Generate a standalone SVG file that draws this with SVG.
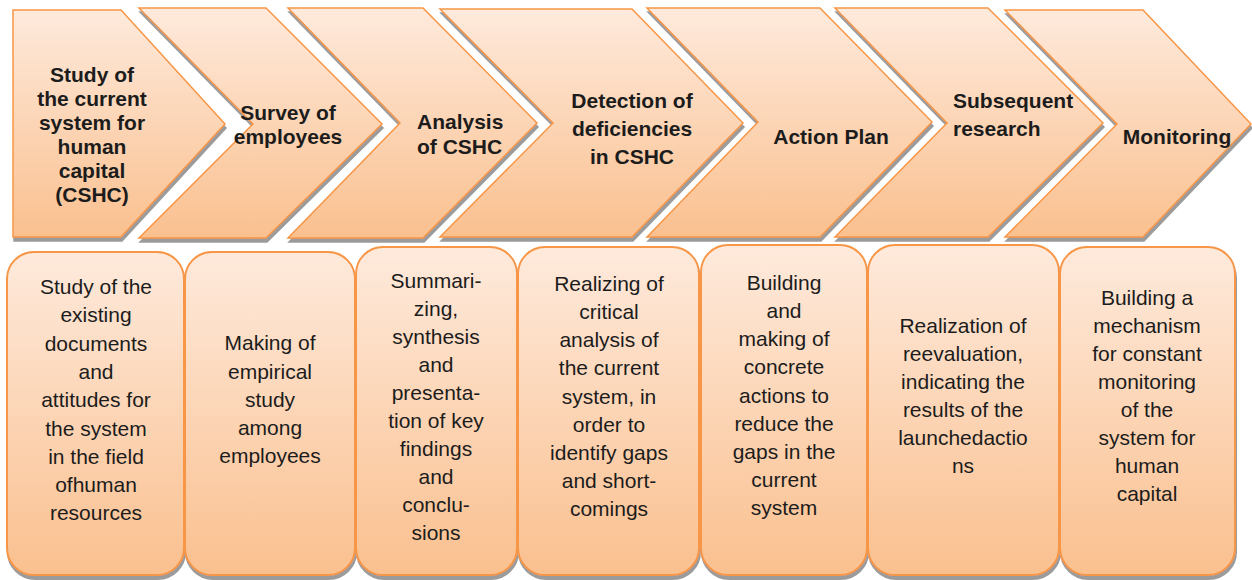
<svg xmlns="http://www.w3.org/2000/svg" width="1252" height="580" viewBox="0 0 1252 580">
<defs>
<linearGradient id="g" x1="0" y1="0" x2="0" y2="1">
<stop offset="0" stop-color="#FEEADC"/>
<stop offset="1" stop-color="#FAC08F"/>
</linearGradient>
<filter id="sh" x="-5%" y="-5%" width="115%" height="115%">
<feDropShadow dx="1" dy="4" stdDeviation="0.7" flood-color="#8a8a8a" flood-opacity="0.85"/>
</filter>
</defs>
<style>
.chev{fill:url(#g);stroke:#F79646;stroke-width:1.5;stroke-linejoin:miter;filter:url(#sh)}
.box{fill:url(#g);stroke:#F79646;stroke-width:2;filter:url(#sh)}
.t{font-family:"Liberation Sans",Arial,sans-serif;font-size:21px;fill:#1c1c1c;text-anchor:middle}
.b{font-weight:bold}
.l{text-anchor:start}
</style>
<rect width="1252" height="580" fill="#ffffff"/>

<g id="step1">
<polygon class="chev" points="13,10 121,10 225,124 121,237 13,237"/>
<text class="t b"><tspan x="92" y="82">Study of</tspan><tspan x="92" y="106">the current</tspan><tspan x="92" y="130">system for</tspan><tspan x="92" y="154">human</tspan><tspan x="92" y="178">capital</tspan><tspan x="92" y="202">(CSHC)</tspan></text>
</g>
<g id="step2">
<polygon class="chev" points="139,8 266,8 382,124 266,238 139,238 253,124"/>
<text class="t b"><tspan x="288" y="120">Survey of</tspan><tspan x="288" y="144">employees</tspan></text>
</g>
<g id="step3">
<polygon class="chev" points="288,8 423,8 537,123 423,238 288,238 400,123"/>
<text class="t b l"><tspan x="417" y="129">Analysis</tspan><tspan x="417" y="154">of CSHC</tspan></text>
</g>
<g id="step4">
<polygon class="chev" points="440,9 632,9 743,123 632,237 440,237 553,123"/>
<text class="t b"><tspan x="632" y="108">Detection of</tspan><tspan x="632" y="136">deficiencies</tspan><tspan x="632" y="164">in CSHC</tspan></text>
</g>
<g id="step5">
<polygon class="chev" points="647,8 820,8 932,122 820,237 647,237 758,122"/>
<text class="t b" x="831" y="144">Action Plan</text>
</g>
<g id="step6">
<polygon class="chev" points="835,8 988,8 1103,123 988,237 835,237 947,123"/>
<text class="t b l"><tspan x="953" y="108">Subsequent</tspan><tspan x="953" y="136">research</tspan></text>
</g>
<g id="step7">
<polygon class="chev" points="1005,10 1143,10 1251,124 1143,237 1005,237 1117,124"/>
<text class="t b" x="1177" y="144">Monitoring</text>
</g>

<g id="desc1">
<rect class="box" x="7" y="252" width="177" height="323" rx="27"/>
<text class="t"><tspan x="96" y="294">Study of the</tspan><tspan x="96" y="322">existing</tspan><tspan x="96" y="350.5">documents</tspan><tspan x="96" y="379">and</tspan><tspan x="96" y="407">attitudes for</tspan><tspan x="96" y="435.5">the system</tspan><tspan x="96" y="463.5">in the field</tspan><tspan x="96" y="492">ofhuman</tspan><tspan x="96" y="520">resources</tspan></text>
</g>
<g id="desc2">
<rect class="box" x="185" y="252" width="170" height="323" rx="27"/>
<text class="t"><tspan x="270" y="350">Making of</tspan><tspan x="270" y="379">empirical</tspan><tspan x="270" y="407">study</tspan><tspan x="270" y="435">among</tspan><tspan x="270" y="463">employees</tspan></text>
</g>
<g id="desc3">
<rect class="box" x="356" y="247" width="161" height="328" rx="27"/>
<text class="t"><tspan x="436" y="288">Summari-</tspan><tspan x="436" y="316">zing,</tspan><tspan x="436" y="344">synthesis</tspan><tspan x="436" y="372">and</tspan><tspan x="436" y="400">presenta-</tspan><tspan x="436" y="428">tion of key</tspan><tspan x="436" y="456">findings</tspan><tspan x="436" y="484">and</tspan><tspan x="436" y="512">conclu-</tspan><tspan x="436" y="540">sions</tspan></text>
</g>
<g id="desc4">
<rect class="box" x="518" y="247" width="181" height="328" rx="27"/>
<text class="t"><tspan x="609" y="291">Realizing of</tspan><tspan x="609" y="319">critical</tspan><tspan x="609" y="347">analysis of</tspan><tspan x="609" y="375">the current</tspan><tspan x="609" y="404">system, in</tspan><tspan x="609" y="432">order to</tspan><tspan x="609" y="460">identify gaps</tspan><tspan x="609" y="488">and short-</tspan><tspan x="609" y="516">comings</tspan></text>
</g>
<g id="desc5">
<rect class="box" x="701" y="245" width="166" height="330" rx="27"/>
<text class="t"><tspan x="784" y="290">Building</tspan><tspan x="784" y="318">and</tspan><tspan x="784" y="346">making of</tspan><tspan x="784" y="374">concrete</tspan><tspan x="784" y="403">actions to</tspan><tspan x="784" y="431">reduce the</tspan><tspan x="784" y="459">gaps in the</tspan><tspan x="784" y="487">current</tspan><tspan x="784" y="515">system</tspan></text>
</g>
<g id="desc6">
<rect class="box" x="868" y="245" width="191" height="330" rx="27"/>
<text class="t"><tspan x="963" y="333">Realization of</tspan><tspan x="963" y="361">reevaluation,</tspan><tspan x="963" y="389">indicating the</tspan><tspan x="963" y="417">results of the</tspan><tspan x="963" y="445">launchedactio</tspan><tspan x="963" y="473">ns</tspan></text>
</g>
<g id="desc7">
<rect class="box" x="1060" y="247" width="175" height="328" rx="27"/>
<text class="t"><tspan x="1147" y="305">Building a</tspan><tspan x="1147" y="333">mechanism</tspan><tspan x="1147" y="361">for constant</tspan><tspan x="1147" y="389">monitoring</tspan><tspan x="1147" y="417">of the</tspan><tspan x="1147" y="445">system for</tspan><tspan x="1147" y="473">human</tspan><tspan x="1147" y="501">capital</tspan></text>
</g>
</svg>
